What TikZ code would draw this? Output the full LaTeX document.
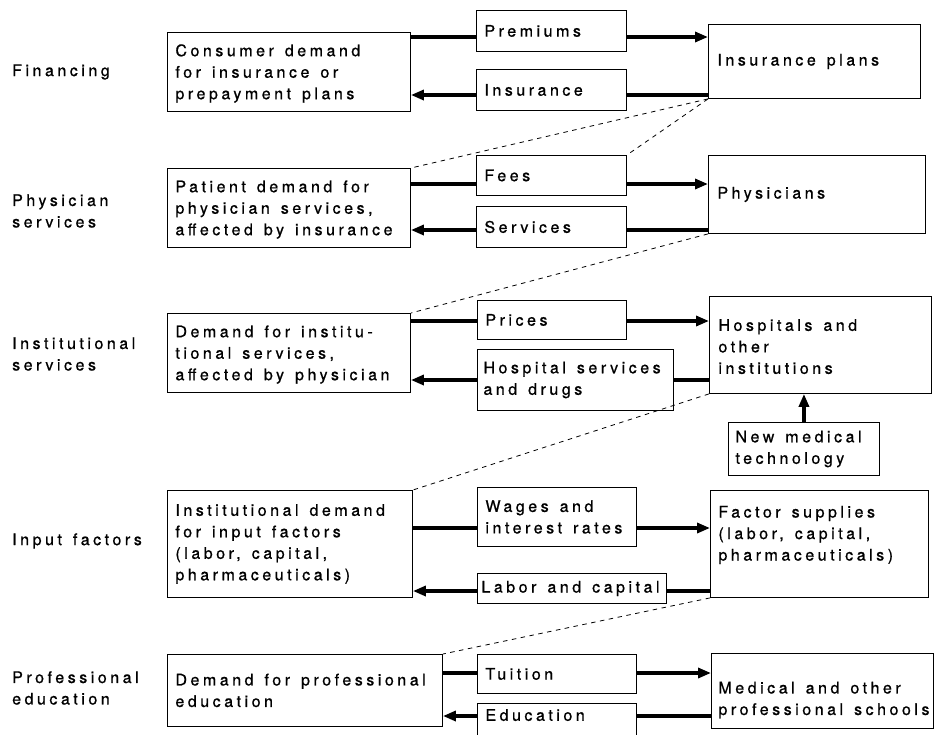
\documentclass[tikz,border=0pt]{standalone}
\usepackage{fontspec}
\setmainfont{TeX Gyre Heros}[LetterSpace=22,FakeBold=0.8]
\usetikzlibrary{arrows.meta}
\newcommand\diagfont{\fontsize{16pt}{21.5pt}\selectfont}
\newcommand\ws{\hspace*{11pt}\ignorespaces}
\begin{document}
\begin{tikzpicture}[x=1pt,y=-1pt,
  font={\diagfont},
  bx/.style={draw, line width=0.9pt, anchor=north west, inner xsep=8pt, inner ysep=0pt, align=left},
  lbl/.style={anchor=west, align=left, inner sep=0pt},
  thk/.style={line width=3.2pt},
  arr/.style={thk, -{Triangle[length=13pt,width=10pt]}},
  dsh/.style={line width=0.8pt, dash pattern=on 4.5pt off 4.5pt}]
\useasboundingbox (0,0) rectangle (936,734);
% left labels
\node[lbl] (lf) at (12,72) {Financing};
\node[lbl] (lp) at (12,211) {Physician\\services};
\node[lbl] (li) at (12,354) {Institutional\\services};
\node[lbl] (lin) at (12,541) {Input\ws factors};
\node[lbl] (lpe) at (12,688) {Professional\\education};
% row 1
\node[bx, minimum width=243pt, minimum height=79pt, text width=227pt] (cons) at (167,32) {\rule{0pt}{15pt}Consumer\ws demand\\for\ws insurance\ws or\\prepayment\ws plans};
\node[bx, minimum width=150pt, minimum height=41pt, text width=134pt] (prem) at (476,10) {Premiums};
\node[bx, minimum width=150pt, minimum height=41pt, text width=134pt] (insu) at (476,69) {Insurance};
\node[bx, minimum width=212pt, minimum height=74pt, text width=194pt, inner xsep=9pt] (plans) at (708,24) {Insurance\ws plans};
% row 2
\node[bx, minimum width=243pt, minimum height=79pt, text width=227pt] (pat) at (167,168) {\rule{0pt}{15pt}Patient\ws demand\ws for\\physician\ws services,\\affected\ws by\ws insurance};
\node[bx, minimum width=150pt, minimum height=40pt, text width=134pt] (fees) at (476,155) {Fees};
\node[bx, minimum width=150pt, minimum height=41pt, text width=134pt] (serv) at (476,206) {Services};
\node[bx, minimum width=217pt, minimum height=78pt, text width=199pt, inner xsep=9pt] (phys) at (708,155) {Physicians};
% row 3
\node[bx, minimum width=243pt, minimum height=79pt, text width=227pt] (inst) at (167,313) {\rule{0pt}{15pt}Demand\ws for\ws institu-\\tional\ws services,\\affected\ws by\ws physician};
\node[bx, minimum width=149pt, minimum height=39pt, text width=133pt] (prices) at (477,300) {Prices};
\node[bx, minimum width=196pt, minimum height=61pt, text width=184pt, inner xsep=6pt] (hsd) at (477,349) {Hospital\ws services\\and\ws drugs};
\node[bx, minimum width=222pt, minimum height=97pt, text width=204pt, inner xsep=9pt] (hosp) at (709,296) {\rule{0pt}{15pt}Hospitals\ws and\\other\\institutions};
\node[bx, minimum width=151pt, minimum height=53pt, text width=137pt, inner xsep=7pt] (nmt) at (728,422) {New\ws medical\\technology};
% row 4
\node[bx, minimum width=245pt, minimum height=107pt, text width=229pt] (inpd) at (167,490) {Institutional\ws demand\\for\ws input\ws factors\\(labor,\ws capital,\\pharmaceuticals)};
\node[bx, minimum width=159pt, minimum height=59pt, text width=143pt] (wages) at (477,487) {Wages\ws and\\interest\ws rates};
\node[bx, minimum width=189pt, minimum height=30pt, text width=181pt, inner xsep=4pt] (lab) at (477,573) {Labor\ws and\ws capital};
\node[bx, minimum width=218pt, minimum height=107pt, text width=202pt] (fact) at (710,490) {Factor\ws supplies\\(labor,\ws capital,\\pharmaceuticals)\\\mbox{}};
% row 5
\node[bx, minimum width=275pt, minimum height=72pt, text width=259pt] (prof) at (167,654) {Demand\ws for\ws professional\\education};
\node[bx, minimum width=159pt, minimum height=39pt, text width=143pt] (tuit) at (477,654) {Tuition};
\node[bx, minimum width=159pt, minimum height=45pt, text width=143pt, text depth=22pt] (educ) at (477,703) {Education};
\node[bx, minimum width=222pt, minimum height=75pt, text width=208pt, inner xsep=7pt] (sch) at (711,653) {\rule{0pt}{30pt}Medical\ws and\ws other\\professional\ws schools};
% row levels
\coordinate (r1t) at (0,37);  \coordinate (r1b) at (0,95);
\coordinate (r2t) at (0,184); \coordinate (r2b) at (0,230);
\coordinate (r3t) at (0,321); \coordinate (r3b) at (0,380);
\coordinate (r4t) at (0,528); \coordinate (r4b) at (0,591);
\coordinate (r5t) at (0,673); \coordinate (r5b) at (0,716);
% row 1 connectors
\draw[thk] (cons.east |- r1t) -- (prem.west |- r1t);
\draw[arr] (prem.east |- r1t) -- (plans.west |- r1t);
\draw[thk] (plans.west |- r1b) -- (insu.east |- r1b);
\draw[arr] (insu.west |- r1b) -- (cons.east |- r1b);
% row 2
\draw[thk] (pat.east |- r2t) -- (fees.west |- r2t);
\draw[arr] (fees.east |- r2t) -- (phys.west |- r2t);
\draw[thk] (phys.west |- r2b) -- (serv.east |- r2b);
\draw[arr] (serv.west |- r2b) -- (pat.east |- r2b);
% row 3
\draw[thk] (inst.east |- r3t) -- (prices.west |- r3t);
\draw[arr] (prices.east |- r3t) -- (hosp.west |- r3t);
\draw[thk] (hosp.west |- r3b) -- (hsd.east |- r3b);
\draw[arr] (hsd.west |- r3b) -- (inst.east |- r3b);
\draw[arr] (nmt.north) -- (nmt.north |- hosp.south);
% row 4
\draw[thk] (inpd.east |- r4t) -- (wages.west |- r4t);
\draw[arr] (wages.east |- r4t) -- (fact.west |- r4t);
\draw[thk] (fact.west |- r4b) -- (lab.east |- r4b);
\draw[arr] (lab.west |- r4b) -- (inpd.east |- r4b);
% row 5
\draw[thk] (prof.east |- r5t) -- (tuit.west |- r5t);
\draw[arr] (tuit.east |- r5t) -- (sch.west |- r5t);
\draw[thk] (sch.west |- r5b) -- (educ.east |- r5b);
\draw[arr] (educ.west |- r5b) -- (prof.east |- r5b);
% dashed links
\draw[dsh] (plans.south west) -- (pat.north east);
\draw[dsh] (plans.south west) -- (fees.north east);
\draw[dsh] (phys.south west) -- (inst.north east);
\draw[dsh] (hosp.south west) -- (inpd.north east);
\draw[dsh] (fact.south west) -- (prof.north east);
\end{tikzpicture}
\end{document}
